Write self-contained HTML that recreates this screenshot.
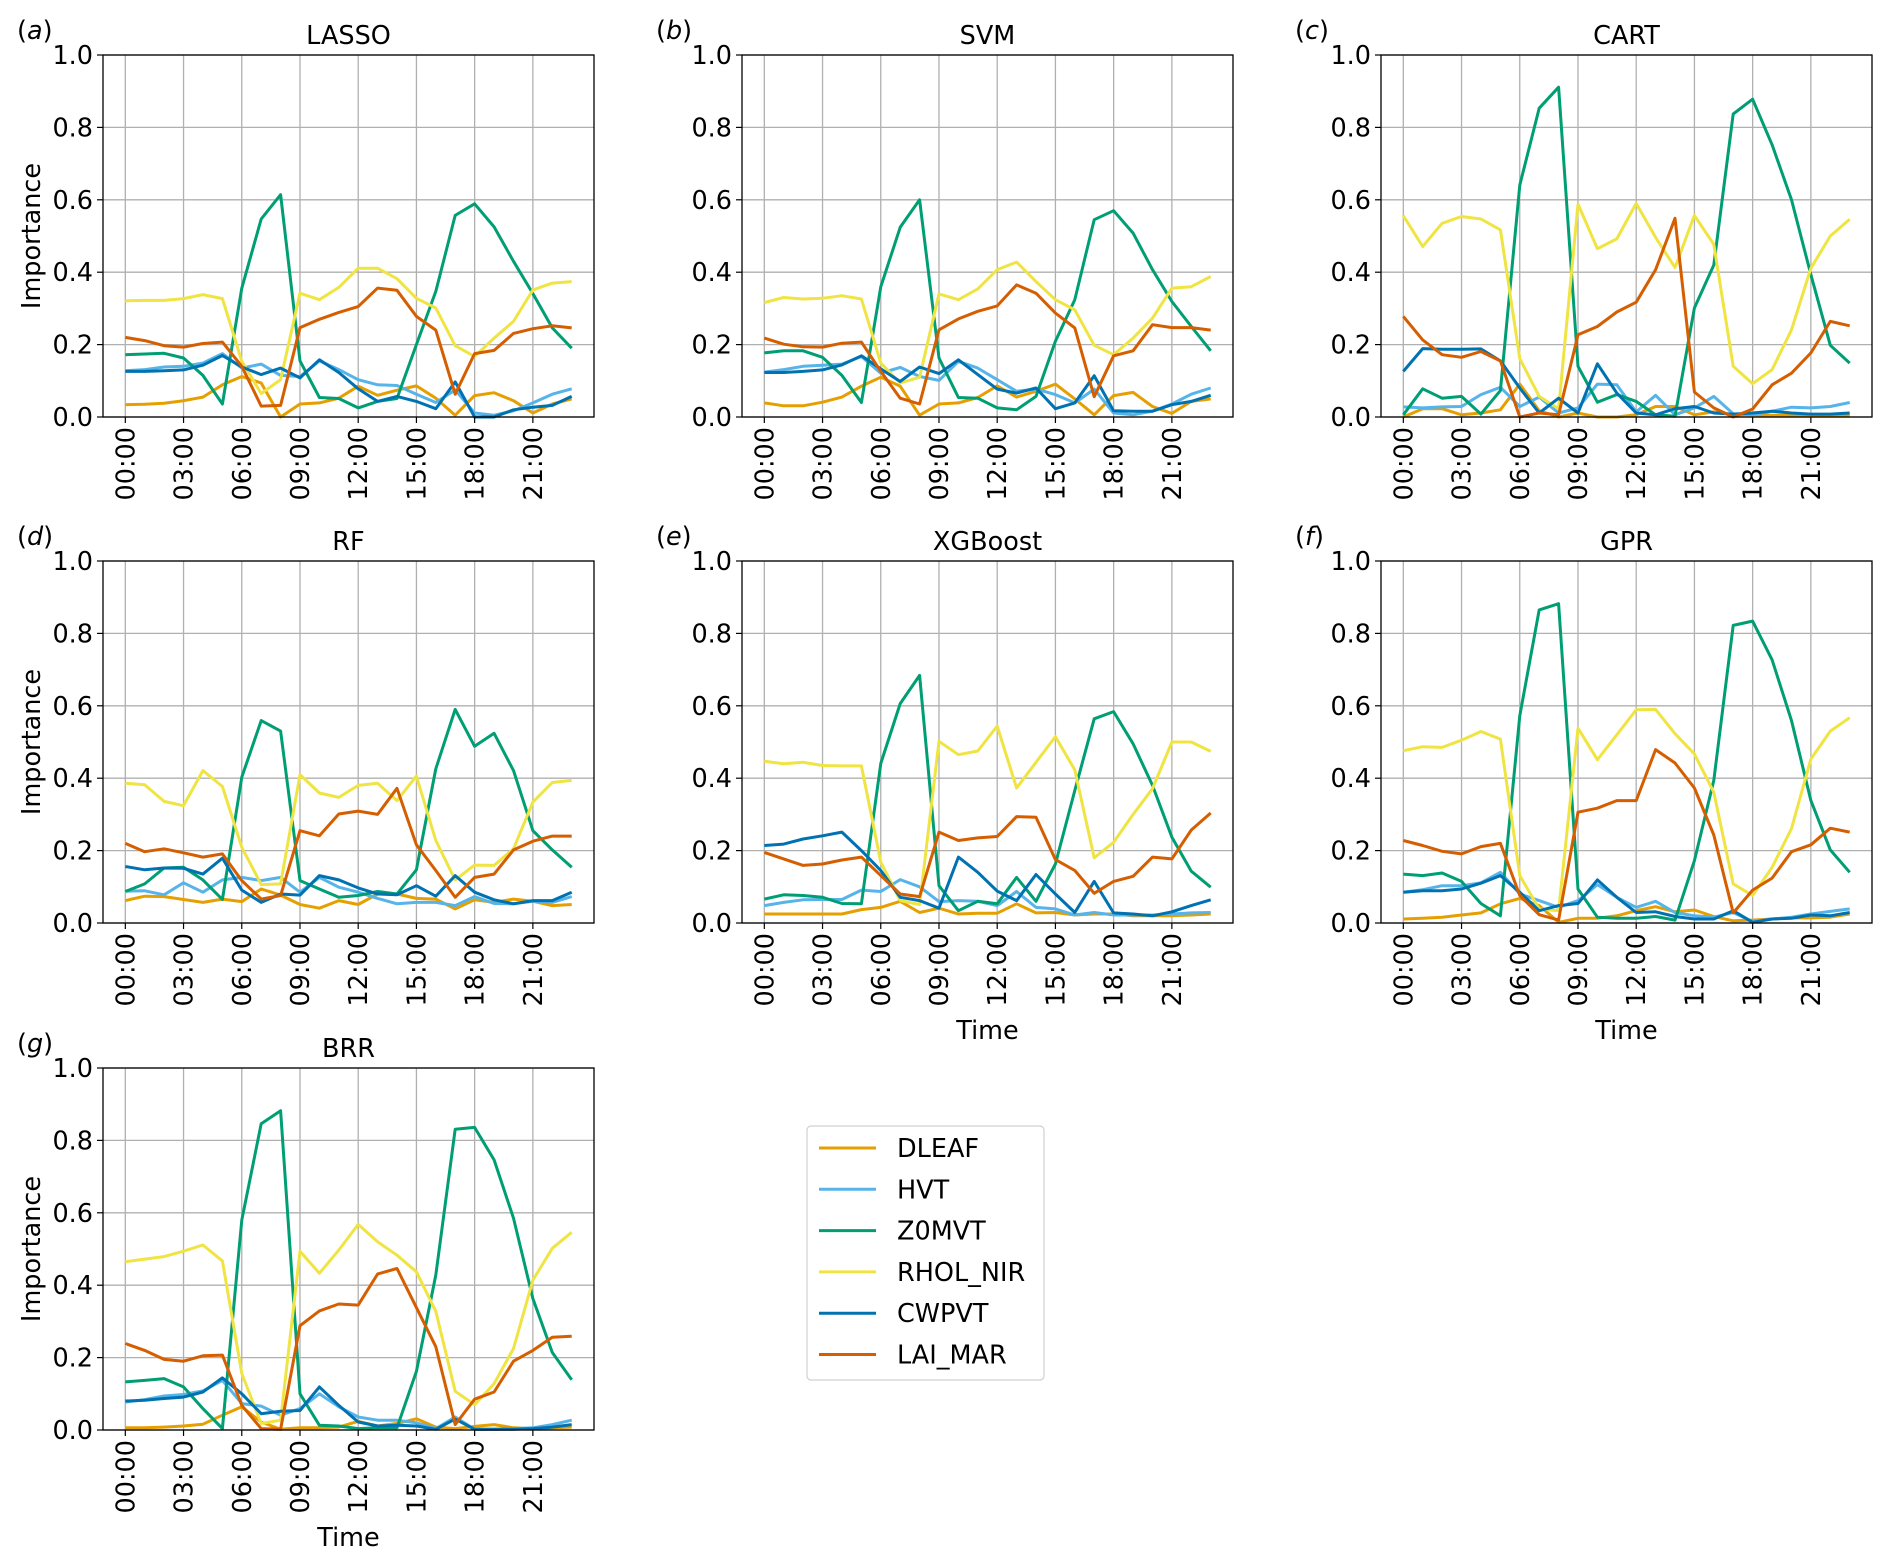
<!DOCTYPE html>
<html><head><meta charset="utf-8"><style>
html,body{margin:0;padding:0;background:#fff}
svg{display:block}
text{font-family:"DejaVu Sans","Liberation Sans",sans-serif;fill:#000}
</style></head><body>
<svg id="fig" width="1892" height="1566" viewBox="0 0 1892 1566" xmlns="http://www.w3.org/2000/svg"></svg>
<script>
const hours = [0,1,2,3,4,5,6,7,8,9,10,11,12,13,14,15,16,17,18,19,20,21,22,23];
const xTickHours = [0,3,6,9,12,15,18,21];
const xTickLabels = ["00:00","03:00","06:00","09:00","12:00","15:00","18:00","21:00"];
const yTicks = [0,0.2,0.4,0.6,0.8,1.0];
const yTickLabels = ["0.0","0.2","0.4","0.6","0.8","1.0"];
const seriesNames = ["DLEAF","HVT","Z0MVT","RHOL_NIR","CWPVT","LAI_MAR"];
const seriesColors = ["#E69F00","#56B4E9","#009E73","#F0E442","#0072B2","#D55E00"];
const models = ["LASSO","SVM","CART","RF","XGBoost","GPR","BRR"];
const panelLetters = ["a","b","c","d","e","f","g"];

const lassoDLEAF=[.034,.035,.038,.045,.055,.089,.112,.094,0,.036,.039,.052,.085,.06,.074,.086,.052,.005,.059,.067,.045,.011,.036,.05];
const lassoHVT=[.128,.131,.138,.14,.149,.175,.135,.146,.115,.112,.155,.131,.103,.089,.087,.063,.04,.075,.011,.005,.017,.039,.063,.078];
const lassoZ0MVT=[.172,.174,.176,.163,.115,.036,.356,.547,.614,.155,.054,.051,.025,.043,.051,.2,.347,.557,.589,.525,.43,.341,.246,.19];
const lassoRHOL=[.321,.322,.322,.327,.338,.327,.154,.065,.103,.342,.324,.358,.411,.411,.382,.328,.301,.197,.167,.218,.264,.351,.37,.374];
const lassoCWPVT=[.126,.126,.128,.13,.143,.17,.138,.117,.135,.108,.158,.123,.078,.043,.057,.043,.023,.097,0,0,.02,.027,.032,.057];
const lassoLAI=[.22,.211,.197,.193,.203,.207,.14,.03,.032,.247,.27,.289,.305,.356,.35,.278,.24,.063,.175,.184,.231,.244,.252,.246];

const svmDLEAF=[.039,.031,.031,.041,.055,.085,.11,.085,.005,.036,.039,.054,.086,.055,.071,.091,.05,.006,.059,.068,.029,.01,.043,.05];
const svmHVT=[.124,.131,.14,.143,.146,.167,.121,.137,.112,.101,.154,.135,.103,.071,.077,.062,.039,.077,.011,.006,.016,.036,.063,.08];
const svmZ0MVT=[.177,.183,.183,.165,.115,.04,.36,.524,.6,.163,.054,.052,.025,.02,.057,.209,.324,.545,.57,.508,.407,.319,.25,.183];
const svmRHOL=[.316,.33,.326,.328,.335,.326,.149,.094,.11,.34,.324,.354,.407,.428,.374,.324,.296,.198,.172,.218,.273,.356,.36,.388];
const svmCWPVT=[.123,.123,.126,.13,.144,.169,.133,.098,.138,.12,.158,.117,.077,.066,.08,.023,.039,.114,.017,.016,.016,.034,.043,.06];
const svmLAI=[.218,.201,.194,.193,.204,.207,.126,.052,.036,.241,.271,.292,.307,.365,.342,.287,.246,.056,.169,.183,.255,.247,.247,.24];

const cartDLEAF=[0,.023,.023,.006,.011,.02,.091,.017,0,.011,0,0,.006,.029,.029,.006,.014,.006,.006,.005,.005,.005,.005,.005];
const cartHVT=[.028,.025,.028,.029,.062,.082,.029,.055,.011,.025,.091,.089,.014,.06,.006,.025,.057,.009,.006,.016,.027,.025,.029,.04];
const cartZ0MVT=[.006,.078,.052,.057,.008,.073,.641,.853,.911,.14,.041,.062,.043,.006,.002,.301,.42,.837,.878,.752,.6,.393,.198,.149];
const cartRHOL=[.556,.471,.535,.554,.547,.517,.161,.057,.023,.588,.465,.492,.59,.496,.413,.557,.477,.14,.092,.131,.241,.411,.5,.546];
const cartCWPVT=[.126,.189,.187,.187,.188,.155,.08,.011,.052,.011,.147,.066,.011,.006,.023,.029,.011,.008,.011,.016,.011,.008,.008,.011];
const cartLAI=[.278,.213,.172,.165,.181,.155,0,.011,.006,.227,.25,.29,.317,.407,.549,.069,.025,0,.022,.089,.121,.177,.264,.252];

const rfDLEAF=[.062,.074,.073,.065,.057,.066,.059,.094,.077,.051,.041,.062,.051,.08,.08,.068,.066,.039,.064,.057,.066,.06,.048,.051];
const rfHVT=[.088,.089,.078,.111,.085,.119,.126,.117,.126,.085,.126,.099,.085,.068,.053,.057,.057,.048,.073,.054,.053,.06,.057,.073];
const rfZ0MVT=[.087,.108,.152,.154,.119,.065,.403,.559,.53,.117,.094,.071,.076,.087,.08,.147,.426,.59,.488,.524,.421,.255,.202,.154];
const rfRHOL=[.386,.382,.336,.324,.421,.377,.209,.106,.108,.41,.359,.347,.38,.386,.338,.406,.228,.119,.16,.159,.205,.334,.388,.394];
const rfCWPVT=[.156,.147,.152,.151,.135,.179,.091,.057,.08,.077,.131,.119,.097,.08,.078,.103,.074,.131,.085,.064,.053,.062,.062,.085];
const rfLAI=[.22,.197,.205,.194,.182,.191,.117,.066,.076,.255,.241,.301,.309,.3,.372,.216,.145,.071,.126,.135,.202,.226,.24,.24];

const xgbDLEAF=[.025,.025,.025,.025,.025,.037,.043,.06,.029,.041,.025,.027,.027,.053,.028,.029,.022,.025,.025,.02,.02,.02,.022,.025];
const xgbHVT=[.048,.057,.064,.065,.065,.091,.087,.12,.1,.059,.062,.06,.048,.087,.043,.039,.022,.029,.022,.022,.022,.025,.028,.029];
const xgbZ0MVT=[.066,.078,.076,.071,.054,.053,.441,.606,.684,.103,.034,.06,.053,.126,.06,.163,.366,.564,.584,.495,.38,.237,.143,.099];
const xgbRHOL=[.447,.44,.444,.435,.434,.434,.168,.062,.051,.502,.465,.475,.544,.373,.444,.515,.423,.18,.223,.3,.371,.5,.5,.474];
const xgbCWPVT=[.214,.218,.232,.241,.251,.2,.145,.071,.062,.041,.182,.14,.088,.062,.134,.08,.029,.115,.028,.025,.02,.031,.048,.064];
const xgbLAI=[.195,.177,.159,.163,.174,.182,.131,.08,.073,.251,.228,.235,.239,.294,.292,.175,.145,.082,.115,.129,.182,.177,.257,.304];

const gprDLEAF=[.011,.013,.016,.022,.028,.053,.068,.048,.002,.013,.013,.02,.034,.045,.031,.036,.018,.006,.008,.011,.014,.014,.016,.025];
const gprHVT=[.085,.092,.103,.103,.111,.14,.08,.062,.043,.062,.106,.071,.043,.06,.029,.02,.016,.029,.004,.011,.016,.025,.032,.039];
const gprZ0MVT=[.135,.131,.138,.115,.054,.02,.573,.865,.882,.094,.016,.013,.013,.018,.008,.172,.394,.822,.834,.727,.559,.338,.202,.14];
const gprRHOL=[.476,.487,.485,.505,.529,.508,.131,.039,.034,.538,.451,.52,.589,.59,.523,.467,.361,.108,.076,.154,.261,.453,.53,.567];
const gprCWPVT=[.085,.089,.089,.094,.11,.131,.085,.034,.048,.054,.119,.071,.029,.031,.018,.011,.011,.034,.002,.011,.013,.022,.02,.029];
const gprLAI=[.228,.214,.198,.191,.211,.22,.076,.023,.008,.306,.317,.338,.338,.479,.442,.373,.243,.028,.091,.124,.197,.216,.262,.251];

const brrDLEAF=[.006,.006,.008,.011,.016,.041,.064,.022,.002,.006,.006,.008,.024,.011,.018,.031,.008,.004,.01,.015,.006,.004,.006,.008];
const brrHVT=[.077,.084,.094,.098,.108,.137,.073,.066,.041,.059,.1,.064,.036,.027,.027,.02,.004,.036,.002,.002,.004,.006,.015,.027];
const brrZ0MVT=[.133,.137,.142,.119,.059,.004,.58,.846,.882,.1,.013,.011,.004,.006,.006,.162,.428,.831,.836,.746,.585,.363,.214,.139];
const brrRHOL=[.465,.472,.479,.494,.511,.467,.156,.018,.027,.494,.433,.497,.568,.52,.483,.437,.328,.107,.07,.128,.225,.414,.502,.546];
const brrCWPVT=[.08,.082,.087,.091,.105,.144,.1,.045,.052,.054,.119,.068,.022,.011,.013,.011,.002,.03,.002,.002,.002,.004,.008,.015];
const brrLAI=[.239,.22,.195,.19,.205,.207,.068,.004,.002,.288,.329,.348,.345,.431,.446,.338,.23,.015,.085,.105,.19,.22,.256,.259];

const panelSeries = [
 [lassoDLEAF,lassoHVT,lassoZ0MVT,lassoRHOL,lassoCWPVT,lassoLAI],
 [svmDLEAF,svmHVT,svmZ0MVT,svmRHOL,svmCWPVT,svmLAI],
 [cartDLEAF,cartHVT,cartZ0MVT,cartRHOL,cartCWPVT,cartLAI],
 [rfDLEAF,rfHVT,rfZ0MVT,rfRHOL,rfCWPVT,rfLAI],
 [xgbDLEAF,xgbHVT,xgbZ0MVT,xgbRHOL,xgbCWPVT,xgbLAI],
 [gprDLEAF,gprHVT,gprZ0MVT,gprRHOL,gprCWPVT,gprLAI],
 [brrDLEAF,brrHVT,brrZ0MVT,brrRHOL,brrCWPVT,brrLAI]
];

const NS="http://www.w3.org/2000/svg";
const svg=document.getElementById('fig');
function mk(tag,attrs,parent){const e=document.createElementNS(NS,tag);for(const k in attrs)e.setAttribute(k,attrs[k]);(parent||svg).appendChild(e);return e;}

const lefts=[103,742,1381], tops=[55,561,1068], W=491, H=362;
const xMin=-1.15, xMax=24.15;
const showTime=[false,false,false,false,true,true,true];
const showYLabel=[true,false,false,true,false,false,true];

models.forEach((m,i)=>{
  const L=lefts[i%3], T=tops[Math.floor(i/3)];
  const xs=h=>L+(h-xMin)/(xMax-xMin)*W;
  const ys=v=>T+H-v*H;
  const g=mk('g',{});
  
  
  xTickHours.forEach(h=>{const l=mk('line',{x1:xs(h),x2:xs(h),y1:T,y2:T+H,stroke:'#b0b0b0','stroke-width':1.3},g);
    });
  yTicks.forEach(v=>{const l=mk('line',{x1:L,x2:L+W,y1:ys(v),y2:ys(v),stroke:'#b0b0b0','stroke-width':1.3},g);
    });
  panelSeries[i].forEach((arr,s)=>{
    const pts=hours.map((h,k)=>xs(h).toFixed(1)+','+ys(arr[k]).toFixed(1)).join(' ');
    const p=mk('polyline',{points:pts,fill:'none',stroke:seriesColors[s],'stroke-width':3,'stroke-linejoin':'round'},g);
    
    
  });
  const fr=mk('rect',{x:L,y:T,width:W,height:H,fill:'none',stroke:'#000','stroke-width':1.3},g);
  
  yTicks.forEach((v,k)=>{
    mk('line',{x1:L-6,x2:L,y1:ys(v),y2:ys(v),stroke:'#000','stroke-width':1.2},g);
    const t=mk('text',{x:L-10,y:ys(v)+9,'text-anchor':'end','font-size':25.5},g);
    t.textContent=yTickLabels[k];
    
  });
  xTickHours.forEach((h,k)=>{
    mk('line',{x1:xs(h),x2:xs(h),y1:T+H,y2:T+H+6,stroke:'#000','stroke-width':1.2},g);
    const x=xs(h)+9, y=T+H+10;
    const t=mk('text',{x:x,y:y,'text-anchor':'end','font-size':25.5,transform:`rotate(-90 ${x} ${y})`},g);
    t.textContent=xTickLabels[k];
    
  });
  const ti=mk('text',{x:L+W/2,y:T-11,'text-anchor':'middle','font-size':25.5},g);
  ti.textContent=m;
  const pl=mk('text',{x:L-86,y:T-16,'font-size':25.5},g);
  pl.innerHTML='(<tspan font-style="italic">'+panelLetters[i]+'</tspan>)';
  
  if(showYLabel[i]){
    const yx=L-63, yy=T+H/2;
    const yl=mk('text',{x:yx,y:yy,'text-anchor':'middle','font-size':25.5,transform:`rotate(-90 ${yx} ${yy})`},g);
    yl.textContent='Importance';
  }
  if(showTime[i]){
    const tl=mk('text',{x:L+W/2,y:T+H+116,'text-anchor':'middle','font-size':25.5},g);
    tl.textContent='Time';
  }
});

const lg=mk('g',{});


mk('rect',{x:807,y:1126,width:237,height:254,rx:4,fill:'#fff',stroke:'#d0d0d0','stroke-width':1.2},lg);
seriesNames.forEach((n,s)=>{
  const y=1148+s*41.3;
  const e=mk('g',{},lg);
  
  
  mk('line',{x1:819,x2:876,y1:y,y2:y,stroke:seriesColors[s],'stroke-width':3},e);
  const t=mk('text',{x:897,y:y+9,'font-size':25.5},e);
  t.textContent=n;
});
</script>
</body></html>
